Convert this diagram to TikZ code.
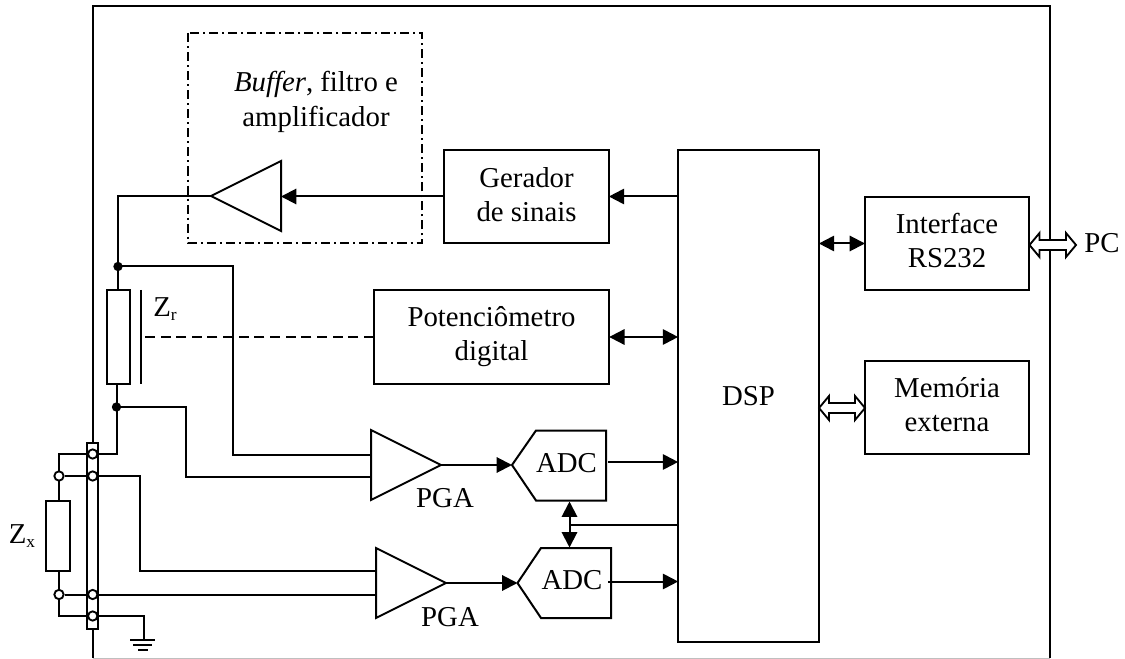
\documentclass[tikz,border=0pt]{standalone}
\usepackage{fontspec}
\setmainfont{Liberation Serif}
\usetikzlibrary{arrows.meta}
\newcommand{\subtxt}[1]{\raisebox{-2.5pt}{\fontsize{13}{13}\selectfont #1}}
\newcommand{\hollowarrow}[3]{% x1, x2, y (pixels)
  \draw[hollow] (#1,#3) -- ({#1+10},{#3-12}) -- ({#1+10},{#3-5}) -- ({#2-10},{#3-5}) -- ({#2-10},{#3-12})
    -- (#2,#3) -- ({#2-10},{#3+12}) -- ({#2-10},{#3+5}) -- ({#1+10},{#3+5}) -- ({#1+10},{#3+12}) -- cycle;}
\tikzset{
  wire/.style={line width=1.5pt,line join=miter},
  txt/.style={font=\fontsize{21.6}{26}\selectfont,align=center,inner sep=0pt},
  blockbox/.style={draw,line width=1.5pt,outer sep=0pt,inner sep=0pt,minimum width=#1},
  arr/.style={wire,-{Triangle[length=11.5pt,width=11.5pt]}},
  darr/.style={wire,{Triangle[length=11.5pt,width=11.5pt]}-{Triangle[length=11.5pt,width=11.5pt]}},
  hollow/.style={draw,fill=white,line width=1.4pt,line join=miter},
  opendot/.style={circle,draw,fill=white,line width=1.4pt,minimum size=7pt,inner sep=0pt},
  fulldot/.style={circle,fill=black,minimum size=7pt,inner sep=0pt},
}
\begin{document}
\begin{tikzpicture}[x=0.75pt,y=-0.75pt]
\useasboundingbox (0,0) rectangle (1125,659);
% frame
\draw[wire] (93,658) -- (93,6) -- (1050,6) -- (1050,658);
\draw[line width=0.5pt,black!25] (93,658) -- (1050,658);
% dash-dot box
\draw[line width=1.2pt,dash pattern=on 6.8pt off 3pt on 1.5pt off 3pt] (188,33) rectangle (422,243);
\node[txt] (buftext) at (316,102) {\textit{Buffer}, filtro e\\amplificador};
% blocks
\node[blockbox=123.5pt,minimum height=70pt] (ger) at (526.5,196.5) {};
\node[txt] (gertext) at (526.5,194.5) {Gerador\\de sinais};
\node[blockbox=176.5pt,minimum height=70.5pt] (pot) at (491.5,337) {};
\node[txt] (pottext) at (491.5,336.5) {Potenciômetro\\digital};
\node[blockbox=105.5pt,minimum height=369pt,txt] (dsp) at (748.5,396) {DSP};
\node[blockbox=123pt,minimum height=70pt] (rs) at (947,243.5) {};
\node[txt] (rstext) at (947,240.5) {Interface\\RS232};
\node[blockbox=123pt,minimum height=70pt] (mem) at (947,407.5) {};
\node[txt] (memtext) at (947,404.5) {Memória\\externa};
\node[txt] (pc) at (1102,243) {PC};
% amplifiers
\draw[wire] (281,161) -- (281,231) -- (211,196) -- cycle;
\coordinate (bufin) at (281,196.5);
\coordinate (bufout) at (211,196.5);
\draw[wire] (371,430) -- (371,500) -- (441,465) -- cycle;
\coordinate (pgaAa) at (371,455); \coordinate (pgaAb) at (371,477); \coordinate (pgaAo) at (441,465);
\draw[wire] (376,548) -- (376,618) -- (446,583) -- cycle;
\coordinate (pgaBa) at (376,571); \coordinate (pgaBb) at (376,594.5); \coordinate (pgaBo) at (446,583);
\node[txt] (pgaAl) at (445,498) {PGA};
\node[txt] (pgaBl) at (450,617) {PGA};
% ADCs
\draw[wire] (512,465) -- (536,430.5) -- (606,430.5) -- (606,500.5) -- (536,500.5) -- cycle;
\node[txt] (adcA) at (566.5,463) {ADC};
\draw[wire] (517.5,583) -- (541,548) -- (611,548) -- (611,618) -- (541,618) -- cycle;
\node[txt] (adcB) at (572,580) {ADC};
\coordinate (adcAin) at (512,465); \coordinate (adcBin) at (517.5,583);
\coordinate (adcAbot) at (569.5,501.5); \coordinate (adcBtop) at (569.5,547.5);
\coordinate (adcAout) at (608,462); \coordinate (adcBout) at (608,581.5);
\coordinate (busj) at (571,524.5);
% block connectors
\draw[arr] (dsp.west |- ger.east) -- (ger.east);
\draw[arr] (ger.west) -- (bufin);
\draw[darr] (pot.east) -- (dsp.west |- pot.east);
\draw[darr] (dsp.east |- rs.west) -- (rs.west);
\hollowarrow{819}{865}{408}
\hollowarrow{1029.5}{1076}{245}
\draw[arr] (pgaAo) -- (adcAin);
\draw[arr] (pgaBo) -- (adcBin);
\draw[arr] (adcAout) -- (dsp.west |- adcAout);
\draw[arr] (adcBout) -- (dsp.west |- adcBout);
\draw[darr] (adcAbot) -- (adcBtop);
\draw[wire] (busj) -- (dsp.west |- busj);
% Zr
\node[draw,line width=1.5pt,outer sep=0pt,minimum width=17.25pt,minimum height=70.5pt,inner sep=0pt] (zr) at (118.5,337) {};
\coordinate (wipT) at (140.5,290); \coordinate (wipB) at (140.5,384);
\draw[wire] (wipT) -- (wipB);
\coordinate (wip) at (145,337);
\draw[wire,dash pattern=on 7.5pt off 4.23pt] (pot.west) -- (wip);
\node[txt] (zrl) at (165,309) {Z\subtxt{r}};
\node[fulldot] (dotT) at (118,266.5) {};
\node[fulldot] (dotB) at (116.5,407) {};
% Zx
\node[draw,line width=1.5pt,outer sep=0pt,minimum width=17.5pt,minimum height=52.5pt,inner sep=0pt] (zx) at (58,536) {};
\node[txt] (zxl) at (22,536) {Z\subtxt{x}};
% strip
\node[draw,fill=white,line width=1.5pt,outer sep=0pt,minimum width=8.5pt,minimum height=140pt,inner sep=0pt] (strip) at (92.7,536) {};
\coordinate (gnd) at (144,640);
% wires
\coordinate (tA) at (92.7,454); \coordinate (tB) at (92.7,476); \coordinate (tC) at (92.7,594.5); \coordinate (tD) at (92.7,616);
\draw[wire] (bufout) -| (dotT.center);
\draw[wire] (dotT.center) -- (zr.north -| dotT.center);
\draw[wire] (dotT.center) -- (233,266.5) |- (pgaAa);
\draw[wire] (zr.south -| dotB.center) -- (dotB.center);
\draw[wire] (dotB.center) -- (186,407) |- (pgaAb);
\draw[wire] (dotB.center) |- (tA);
\draw[wire] (tB) -- (140,476) |- (pgaBa);
\draw[wire] (tC) -- (pgaBb);
\draw[wire] (tD) -| (gnd);
\draw[wire] (130,640) -- (155,640);
\draw[wire] (133,645) -- (152,645);
\draw[wire] (138,649.5) -- (148,649.5);
\coordinate (xT) at (59,454); \coordinate (xB) at (59,616);
\draw[wire] (tA) -- (xT) -- (zx.north -| xT);
\draw[wire] (zx.south -| xT) -- (xB) -- (tD);
\node[opendot] (oA) at (59,476) {};
\node[opendot] (oB) at (59,594.5) {};
\draw[wire] (oA) -- (tB);
\draw[wire] (oB) -- (tC);
\foreach \t in {tA,tB,tC,tD} \node[opendot] at (\t) {};
\end{tikzpicture}
\end{document}
